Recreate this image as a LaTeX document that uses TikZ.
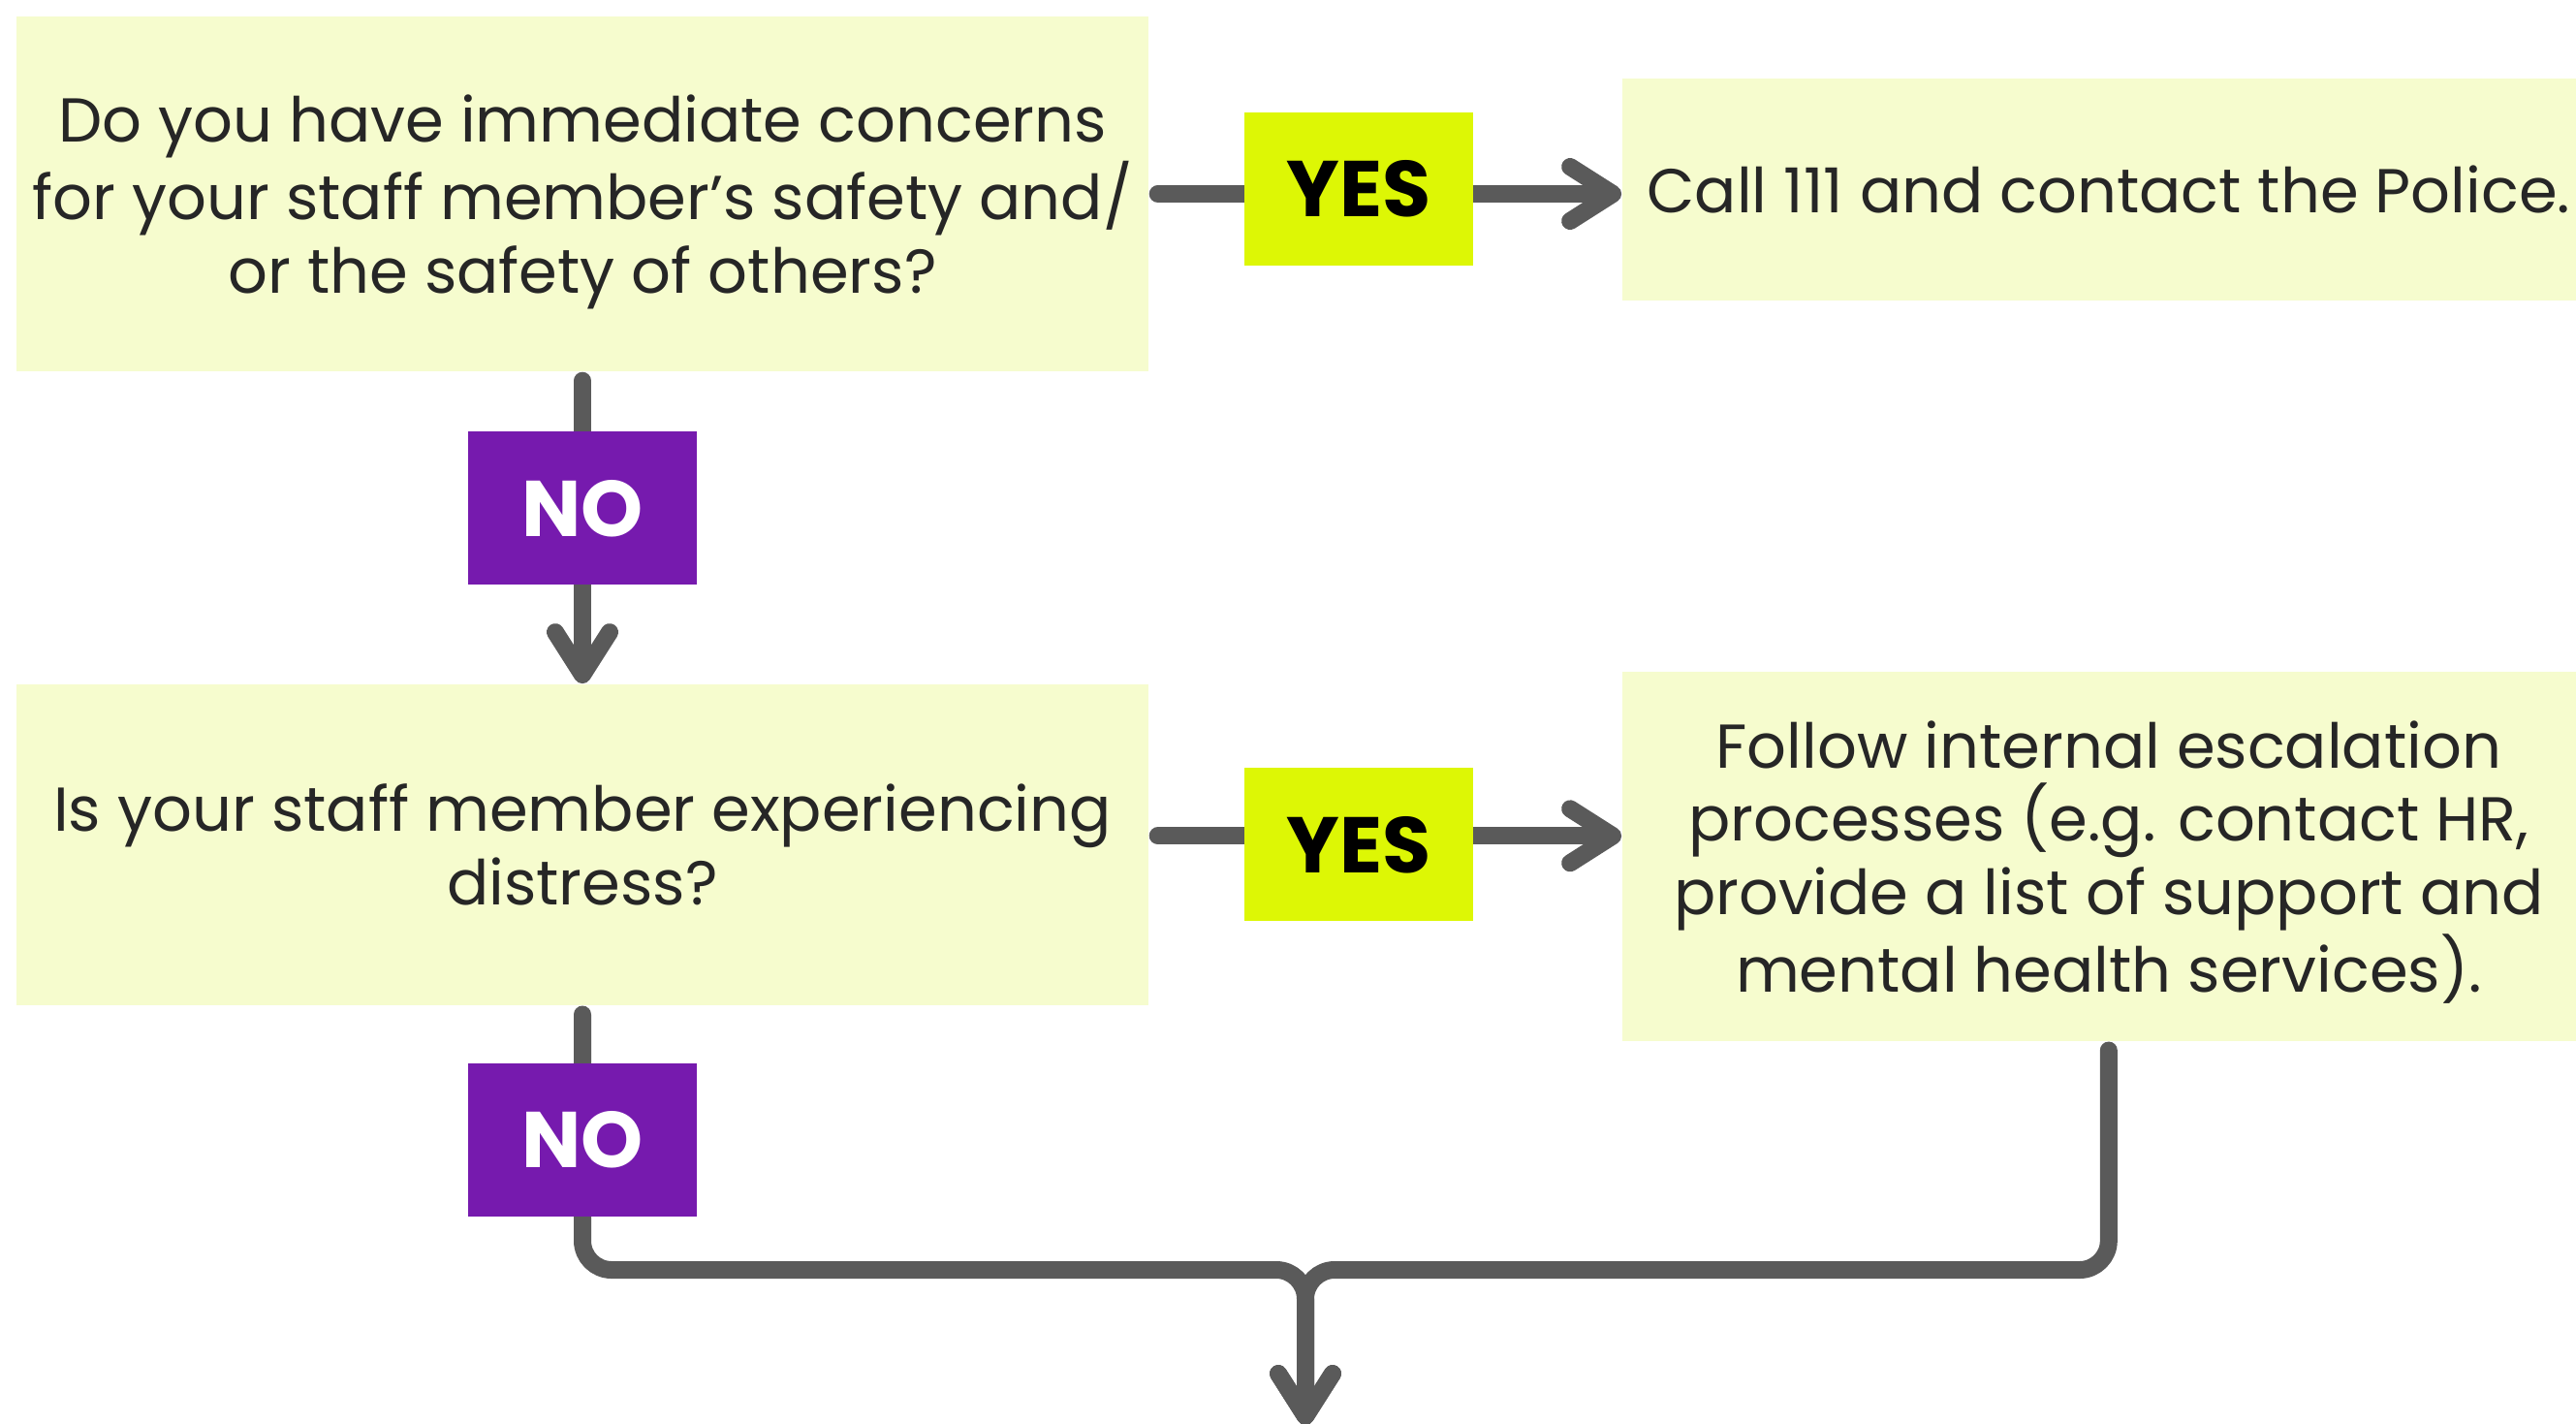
\documentclass[tikz,border=0pt]{standalone}
\usepackage{fontspec}
\setmainfont{Poppins}
\usetikzlibrary{positioning,arrows.meta}
\definecolor{boxfill}{HTML}{F6FCCE}
\definecolor{yesfill}{HTML}{DDF705}
\definecolor{nofill}{HTML}{761AAE}
\definecolor{linegray}{HTML}{5A5A5A}
\definecolor{textdark}{HTML}{262626}
\pgfdeclarelayer{background}
\pgfsetlayers{background,main}
\begin{document}
\begin{tikzpicture}
    \tikzstyle{box} = [fill=boxfill, shape=rectangle, text=textdark, align=center, inner sep=0pt, text depth=0pt, font=\fontsize{18.2}{21.5}\selectfont]
    \tikzstyle{yesbox} = [fill=yesfill, shape=rectangle, text=black, minimum width=2.36cm, minimum height=1.58cm, inner sep=0pt, font=\bfseries\fontsize{23.2}{26}\selectfont]
    \tikzstyle{nobox} = [yesbox, fill=nofill, text=white]
    \tikzstyle{line} = [draw=linegray, line width=0.18cm, line cap=round, line join=round, shorten <=0.09cm]
    \tikzstyle{arrow} = [line, -{Straight Barb[length=0.44cm, width=0.56cm, round]}]

    \useasboundingbox (0,0) rectangle (26.58,-14.68);

    \node [box, minimum width=11.68cm, minimum height=3.66cm] at (6.01,-2.00) (q1) {Do you have immediate concerns\\for your staff member’s safety and/\\or the safety of others?};
    \node [yesbox, right=0.98cm of q1, yshift=0.05cm] (yes1) {YES};
    \node [box, minimum width=10.04cm, minimum height=2.29cm, right=1.52cm of yes1] (call) {Call 111 and contact the Police.};
    \node [nobox, below=0.61cm of q1] (no1) {NO};
    \node [box, minimum width=11.68cm, minimum height=3.31cm, below=1.01cm of no1] (q2) {Is your staff member experiencing\\distress?};
    \node [yesbox, right=0.98cm of q2] (yes2) {YES};
    \node [box, minimum width=10.04cm, minimum height=3.81cm, right=1.52cm of yes2, yshift=-0.12cm] (esc) {Follow internal escalation\\processes (e.g. contact HR,\\provide a list of support and\\mental health services).};
    \node [nobox, below=0.59cm of q2] (no2) {NO};
    \coordinate (join) at (13.47,-13.10);
    \coordinate (down) at (13.47,-14.70);

    \begin{pgfonlayer}{background}
    \draw [arrow] (q1.east) -- (call.west |- q1.east);
    \draw [arrow] (q1.south) -- (q2.north);
    \draw [arrow] ([yshift=0.09cm]q2.east) -- ([yshift=0.09cm]esc.west |- q2.east);
    \draw [arrow, rounded corners=0.3cm] (q2.south) |- (join) -- (down);
    \draw [arrow, rounded corners=0.3cm] (esc.south) |- (join) -- (down);
    \end{pgfonlayer}
\end{tikzpicture}
\end{document}
